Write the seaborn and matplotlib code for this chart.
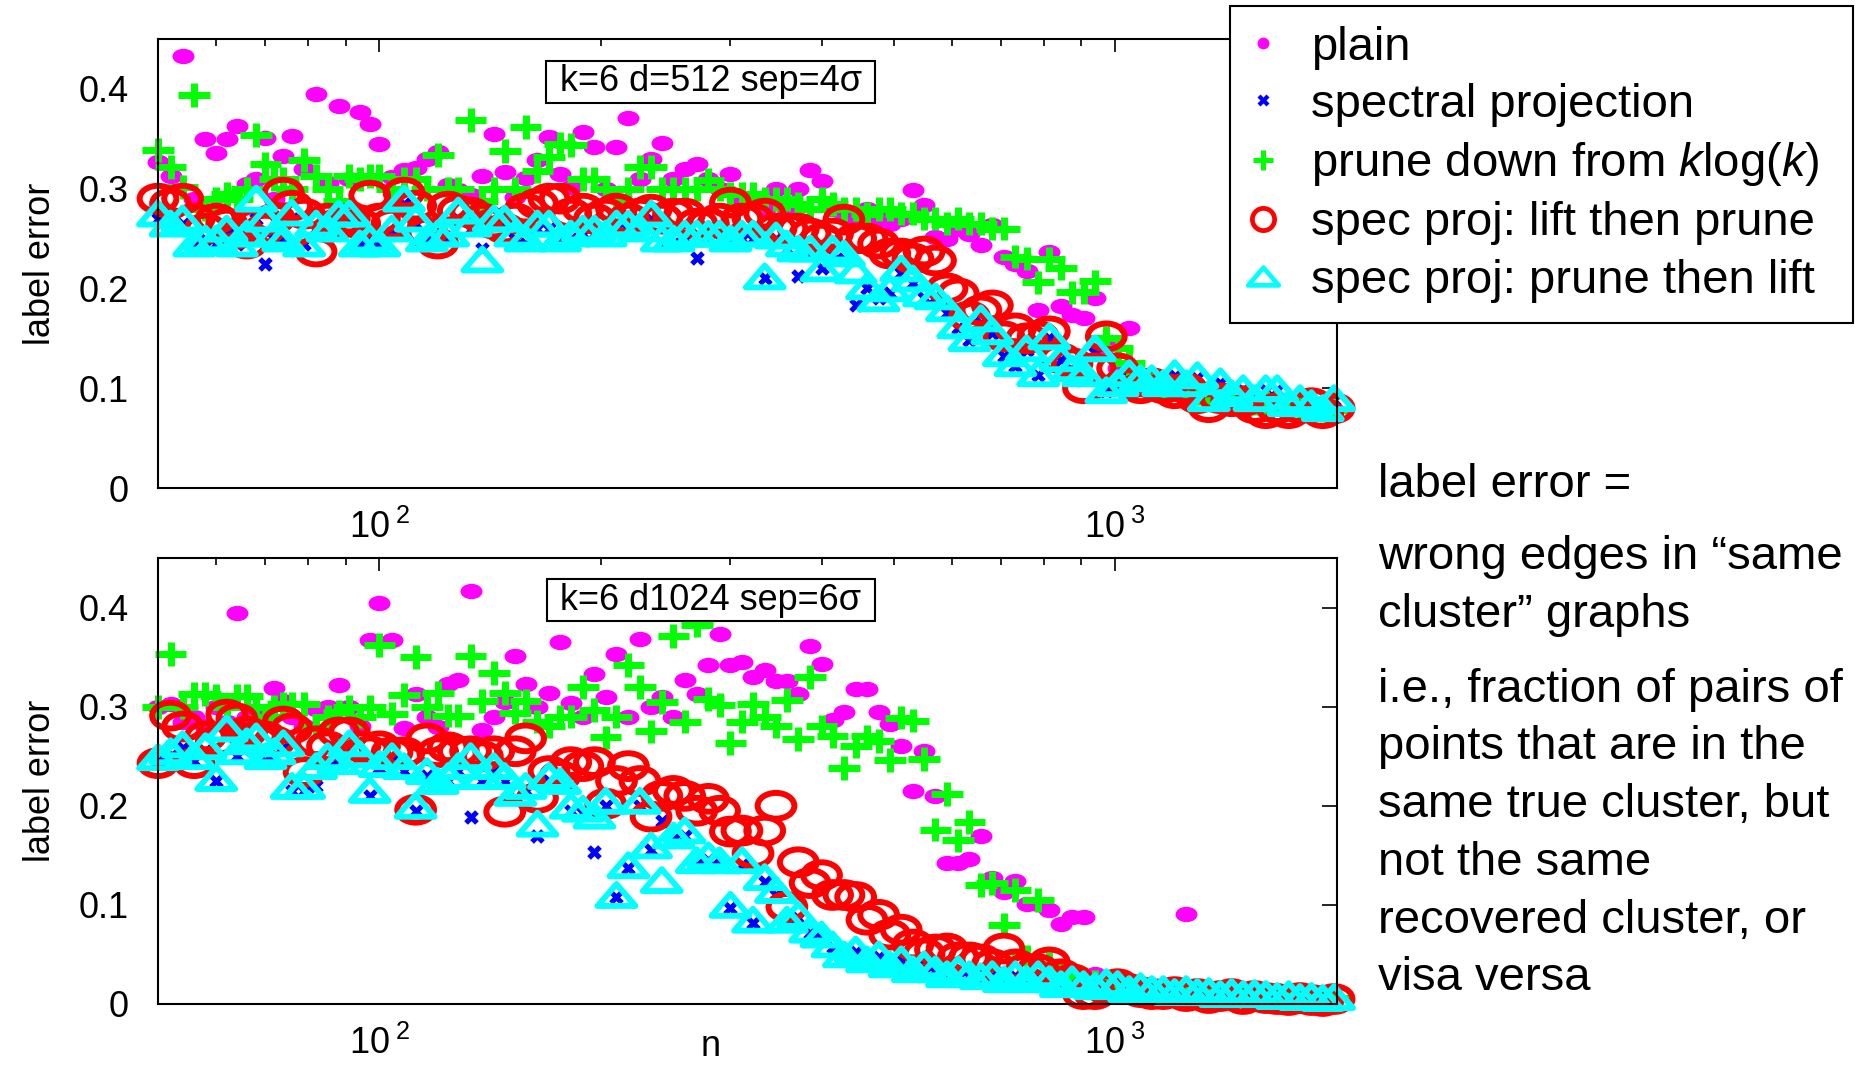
import matplotlib
matplotlib.use("Agg")
import matplotlib.pyplot as plt
import numpy as np
import pandas as pd
import seaborn as sns
from matplotlib.path import Path
from matplotlib.lines import Line2D
from matplotlib.ticker import FixedLocator, NullFormatter

# problem sizes n (shared by both panels)
n_vals = [50, 52, 54, 56, 58, 60, 62, 64, 66, 68,
          70, 72, 74, 76, 79, 82, 85, 88, 91, 94,
          97, 100, 104, 108, 112, 116, 120, 124, 128, 133,
          138, 143, 148, 153, 158, 164, 170, 176, 182, 189,
          196, 203, 210, 218, 226, 234, 242, 251, 260, 270,
          280, 290, 300, 311, 322, 334, 346, 358, 371, 385,
          399, 413, 428, 444, 460, 477, 494, 512, 531, 550,
          570, 591, 612, 634, 657, 681, 706, 732, 758, 786,
          814, 844, 874, 906, 939, 973, 1008, 1045, 1083, 1122,
          1163, 1205, 1249, 1294, 1341, 1390, 1440, 1493, 1547, 1603,
          1661, 1722, 1784, 1849, 1916, 1985]

# ---- top panel: k=6 d=512 sep=4sigma
top_plain = [.327, .313, .433, .29, .35, .336, .35, .363, .305, .31,
             .351, .29, .333, .353, .32, .395, .306, .383, .31, .377,
             .365, .345, .312, .319, .321, .33, .337, .304, .299, .294,
             .313, .355, .317, .292, .311, .329, .352, .315, .302, .357,
             .342, .30, .342, .371, .31, .33, .346, .31, .32, .325,
             .31, .30, .315, .29, .29, .28, .30, .28, .30, .319,
             .308, .28, .275, .27, .28, .27, .265, .27, .299, .284,
             .252, .25, .26, .255, .244, .264, .232, .225, .217, .178,
             .237, .182, .173, .17, .19, .142, .12, .16, .11, .10,
             .10, .095, .10, .095, .09, .09, .09, .085, .085, .085,
             .082, .085, .08, .08, .08, .078]
top_spec = [.27, .26, .265, .245, .25, .245, .255, .245, .25, .27,
            .225, .25, .25, .27, .245, .26, .255, .27, .27, .245,
            .25, .245, .255, .285, .265, .25, .247, .25, .27, .26,
            .24, .265, .265, .25, .245, .26, .26, .25, .25, .255,
            .255, .25, .26, .26, .255, .27, .245, .245, .25, .231,
            .25, .25, .245, .25, .25, .21, .25, .24, .212, .235,
            .22, .235, .23, .183, .2, .19, .195, .215, .205, .19,
            .19, .175, .16, .148, .165, .155, .132, .122, .138, .113,
            .15, .128, .118, .113, .135, .097, .103, .112, .108, .108,
            .103, .112, .103, .11, .088, .105, .093, .098, .088, .098,
            .098, .083, .088, .083, .078, .088]
top_prune = [.339, .322, .302, .394, .28, .29, .295, .29, .30, .354,
             .325, .31, .31, .30, .329, .313, .30, .288, .313, .31,
             .313, .313, .30, .31, .31, .30, .334, .30, .30, .369,
             .288, .30, .338, .30, .362, .318, .332, .345, .344, .31,
             .31, .30, .29, .30, .322, .322, .30, .30, .30, .30,
             .309, .30, .295, .295, .295, .29, .29, .29, .285, .28,
             .29, .285, .28, .28, .275, .28, .28, .275, .275, .27,
             .27, .265, .27, .265, .265, .26, .26, .232, .23, .206,
             .23, .22, .196, .196, .207, .15, .14, .125, .11, .105,
             .10, .10, .10, .095, .095, .09, .09, .09, .085, .085,
             .085, .082, .08, .08, .078, .078]
top_lift = [.29, .285, .29, .27, .26, .27, .265, .255, .245, .265,
            .26, .27, .296, .283, .275, .237, .27, .265, .27, .265,
            .293, .27, .265, .296, .283, .256, .245, .282, .278, .276,
            .27, .265, .26, .27, .28, .285, .29, .29, .275, .28,
            .27, .275, .28, .27, .275, .279, .27, .275, .275, .265,
            .265, .27, .286, .27, .27, .275, .26, .26, .26, .255,
            .25, .255, .269, .25, .25, .245, .235, .235, .23, .237,
            .228, .2, .195, .172, .178, .183, .152, .16, .15, .152,
            .157, .13, .125, .10, .12, .152, .12, .105, .10, .105,
            .10, .095, .10, .09, .081, .09, .087, .087, .08, .075,
            .08, .075, .08, .085, .075, .08]
top_plift = [.275, .265, .27, .245, .25, .25, .26, .245, .255, .29,
             .27, .255, .25, .276, .245, .265, .26, .275, .275, .245,
             .25, .245, .26, .29, .27, .25, .255, .255, .278, .265,
             .229, .27, .27, .255, .25, .265, .265, .25, .255, .26,
             .26, .255, .265, .265, .26, .275, .25, .25, .255, .255,
             .255, .255, .25, .255, .255, .212, .253, .245, .24, .24,
             .22, .24, .235, .218, .202, .19, .2, .22, .21, .195,
             .192, .18, .163, .15, .17, .157, .135, .125, .14, .115,
             .152, .13, .12, .115, .14, .098, .105, .115, .11, .11,
             .105, .115, .105, .113, .09, .107, .095, .10, .09, .10,
             .10, .085, .09, .085, .08, .09]

# ---- bottom panel: k=6 d1024 sep=6sigma
bot_plain = [.30, .303, .285, .29, .28, .30, .285, .395, .29, .29,
             .293, .319, .306, .29, .28, .298, .30, .322, .30, .28,
             .367, .405, .367, .278, .313, .29, .279, .323, .327, .417,
             .276, .29, .305, .351, .323, .30, .314, .365, .304, .29,
             .333, .31, .353, .29, .368, .30, .31, .29, .327, .313,
             .342, .373, .342, .345, .33, .337, .326, .326, .313, .361,
             .343, .287, .295, .318, .318, .295, .283, .26, .215, .255,
             .21, .142, .142, .146, .169, .127, .113, .124, .101, .101,
             .095, .081, .088, .088, .03, .02, .02, .018, .016, .015,
             .015, .014, .091, .013, .012, .012, .011, .01, .01, .009,
             .009, .008, .008, .007, .007, .006]
bot_spec = [.245, .25, .258, .245, .255, .225, .27, .25, .26, .265,
            .245, .25, .258, .215, .215, .22, .245, .24, .258, .248,
            .21, .238, .245, .235, .195, .23, .22, .225, .235, .189,
            .225, .235, .225, .208, .215, .169, .225, .22, .195, .193,
            .153, .2, .108, .137, .2, .155, .185, .165, .17, .14,
            .145, .14, .097, .14, .082, .123, .11, .082, .087, .072,
            .067, .058, .048, .052, .043, .047, .038, .043, .033, .038,
            .033, .028, .033, .028, .026, .028, .023, .028, .023, .028,
            .023, .018, .023, .018, .016, .02, .018, .013, .016, .013,
            .013, .01, .013, .01, .011, .008, .01, .008, .009, .008,
            .006, .008, .005, .006, .004, .005]
bot_prune = [.30, .353, .30, .313, .313, .311, .30, .311, .311, .30,
             .29, .30, .303, .303, .303, .279, .29, .295, .30, .29,
             .30, .362, .293, .312, .35, .30, .314, .291, .291, .351,
             .306, .334, .314, .294, .306, .285, .28, .29, .29, .32,
             .297, .269, .29, .342, .32, .275, .305, .371, .285, .382,
             .308, .302, .263, .285, .303, .29, .28, .307, .267, .33,
             .28, .27, .238, .26, .27, .265, .246, .289, .286, .247,
             .176, .212, .165, .184, .12, .122, .08, .115, .048, .105,
             .04, .033, .03, .025, .022, .02, .018, .017, .015, .015,
             .014, .014, .013, .013, .012, .012, .011, .01, .01, .009,
             .009, .008, .008, .007, .007, .006]
bot_lift = [.243, .291, .28, .243, .27, .265, .292, .288, .275, .27,
            .27, .265, .285, .278, .234, .265, .26, .274, .274, .26,
            .255, .26, .254, .254, .196, .268, .254, .259, .255, .255,
            .25, .255, .194, .255, .268, .208, .235, .23, .244, .24,
            .244, .202, .225, .24, .225, .189, .21, .215, .21, .195,
            .207, .195, .174, .175, .152, .175, .2, .098, .143, .122,
            .13, .11, .11, .108, .085, .09, .07, .075, .06, .051,
            .055, .056, .047, .047, .045, .04, .056, .04, .035, .035,
            .042, .03, .025, .01, .01, .015, .02, .015, .012, .01,
            .01, .012, .008, .01, .006, .008, .01, .005, .008, .006,
            .005, .004, .006, .004, .003, .005]
bot_plift = [.249, .255, .262, .25, .26, .228, .278, .255, .265, .27,
             .25, .255, .263, .22, .22, .24, .25, .245, .263, .252,
             .216, .242, .25, .24, .2, .235, .225, .23, .24, .25,
             .23, .24, .23, .213, .22, .182, .23, .225, .2, .197,
             .19, .205, .11, .14, .205, .16, .125, .17, .175, .145,
             .15, .145, .1, .145, .085, .128, .115, .085, .09, .075,
             .07, .06, .05, .055, .045, .05, .04, .045, .035, .04,
             .035, .03, .035, .03, .028, .03, .025, .03, .025, .03,
             .025, .02, .025, .02, .018, .022, .02, .015, .018, .015,
             .015, .012, .015, .012, .013, .01, .012, .01, .011, .01,
             .008, .01, .007, .008, .006, .007]

methods = ["plain", "spectral projection", "prune down", "lift then prune", "prune then lift"]
legend_labels = ["plain", "spectral projection", r"prune down from $k$log($k$)",
                 "spec proj: lift then prune", "spec proj: prune then lift"]
panel_tags = [" k=6 d=512 sep=4\u03c3 ", " k=6 d1024 sep=6\u03c3 "]
side_lines = ["label error =", "wrong edges in \u201csame", "cluster\u201d graphs",
              "i.e., fraction of pairs of", "points that are in the",
              "same true cluster, but", "not the same", "recovered cluster, or", "visa versa"]
side_y = [497, 569, 627, 702, 759, 817, 875, 933, 990]

sns.set_style("white")
plt.rcParams['font.family'] = 'Liberation Sans'
plt.rcParams['mathtext.fontset'] = 'custom'
plt.rcParams['mathtext.rm'] = 'Liberation Sans'
plt.rcParams['mathtext.it'] = 'Liberation Sans:italic'
plt.rcParams['mathtext.bf'] = 'Liberation Sans:bold'
plt.rcParams['axes.edgecolor'] = 'black'
plt.rcParams['axes.linewidth'] = 1.5
for key in ['text.color', 'axes.labelcolor', 'xtick.color', 'ytick.color']:
    plt.rcParams[key] = 'black'

# gnuplot point shapes come out wider than tall
circ = Path.unit_circle()
ellipse = Path(circ.vertices * np.array([1.0, 0.7]), circ.codes)
triangle = Path([(0, 0.58), (-1, -0.58), (1, -0.58), (0, 0.58)],
                [Path.MOVETO, Path.LINETO, Path.LINETO, Path.CLOSEPOLY])
cross = Path([(-1, 0), (1, 0), (0, -0.75), (0, 0.75)],
             [Path.MOVETO, Path.LINETO, Path.MOVETO, Path.LINETO])

styles = {
    "plain": dict(marker=ellipse, s=250, color="#ff00ff", linewidth=0),
    "spectral projection": dict(marker="X", s=110, color="#0000ff", linewidth=0),
    "prune down": dict(marker=cross, s=520, facecolor="none", edgecolor="#00ff00", linewidth=5.0),
    "lift then prune": dict(marker=ellipse, s=700, facecolor="none", edgecolor="#ff0000", linewidth=4.3),
    "prune then lift": dict(marker=triangle, s=740, facecolor="none", edgecolor="#00ffff", linewidth=4.3),
}


def make_df(plain, spec, prune, lift, plift):
    df = pd.DataFrame({"n": n_vals, methods[0]: plain, methods[1]: spec,
                       methods[2]: prune, methods[3]: lift, methods[4]: plift})
    return df.melt(id_vars="n", var_name="method", value_name="label error")


def draw_panel(ax, df, tag):
    ax.set_xscale("log")
    for m in methods:
        sns.scatterplot(data=df[df["method"] == m], x="n", y="label error", ax=ax,
                        legend=False, clip_on=False, **styles[m])
    ax.set_xlim(50, 2000)
    ax.set_ylim(0, 0.45)
    ax.set_xticks([100, 1000], labels=[r"$\mathregular{10^{\;2}}$", r"$\mathregular{10^{\;3}}$"])
    ax.xaxis.set_minor_locator(FixedLocator([60, 70, 80, 90, 200, 300, 400, 500, 600, 700, 800, 900, 2000]))
    ax.xaxis.set_minor_formatter(NullFormatter())
    ax.set_yticks([0, 0.1, 0.2, 0.3, 0.4], labels=["0", "0.1", "0.2", "0.3", "0.4"])
    ax.tick_params(which="both", direction="in", top=True, right=True, width=1.2,
                   color="black", labelcolor="black", labelsize=26)
    ax.tick_params(axis="x", which="major", length=9, pad=16)
    ax.tick_params(axis="x", which="minor", length=5)
    ax.tick_params(axis="y", which="major", length=11, pad=21)
    for sp in ax.spines.values():
        sp.set_visible(True)
        sp.set_color("black")
        sp.set_linewidth(1.5)
    ax.set_ylabel("label error", fontsize=26, color="black")
    ax.yaxis.set_label_coords(-0.085, 0.5)
    ax.set_xlabel("")
    ax.text(0.469, 0.905, tag, transform=ax.transAxes, ha="center", va="center",
            fontsize=26, zorder=10, color="black",
            bbox=dict(boxstyle="square,pad=0.1", fc="white", ec="black", lw=1.5))


fig = plt.figure(figsize=(18.67, 10.65), dpi=100)
ax_top = fig.add_axes([0.08463, 0.54178, 0.63123, 0.42160])
ax_bot = fig.add_axes([0.08463, 0.05728, 0.63123, 0.41878])

draw_panel(ax_top, make_df(top_plain, top_spec, top_prune, top_lift, top_plift), panel_tags[0])
draw_panel(ax_bot, make_df(bot_plain, bot_spec, bot_prune, bot_lift, bot_plift), panel_tags[1])

ax_bot.set_xlabel("n", fontsize=26, color="black")
ax_bot.xaxis.set_label_coords(0.469, -0.055)

handles = [
    Line2D([], [], ls="none", marker="o", ms=8.5, mfc="#ff00ff", mec="none"),
    Line2D([], [], ls="none", marker="X", ms=8, mfc="#0000ff", mec="none"),
    Line2D([], [], ls="none", marker="+", ms=15, mec="#00ff00", mew=3.6),
    Line2D([], [], ls="none", marker="o", ms=16, mfc="none", mec="#ff0000", mew=3.4),
    Line2D([], [], ls="none", marker=triangle, ms=22, mfc="none", mec="#00ffff", mew=3.4),
]
leg = fig.legend(handles, legend_labels, loc="upper left",
                 bbox_to_anchor=(0.6588, 0.69, 0.3337, 0.3044), mode="expand",
                 borderaxespad=0, fontsize=34, frameon=True, fancybox=False,
                 framealpha=1, edgecolor="black", borderpad=0.42, labelspacing=0.28,
                 handlelength=0.55, handletextpad=0.75)
leg.get_frame().set_linewidth(1.5)
for t in leg.get_texts():
    t.set_color("black")

for txt, yp in zip(side_lines, side_y):
    fig.text(1378 / 1867, 1 - yp / 1065, txt, fontsize=34, ha="left", va="baseline",
             color="black")

fig.savefig("out.png", dpi=100, facecolor="white")
